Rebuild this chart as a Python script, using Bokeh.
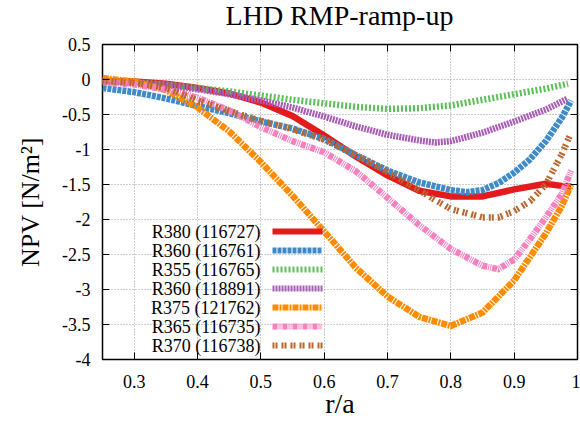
from bokeh.plotting import figure
from bokeh.models import FixedTicker, CustomJSTickFormatter, LinearAxis, Label, Arrow, Div
from bokeh.layouts import column
from bokeh.embed import file_html
from bokeh.resources import INLINE

# ---- data ----
r_r380_116727 = [0.25, 0.30, 0.35, 0.40, 0.45, 0.50, 0.55, 0.60, 0.65, 0.70, 0.75, 0.80, 0.85, 0.90, 0.95, 0.975, 0.99]
npv_r380_116727 = [-0.02, -0.03, -0.06, -0.12, -0.20, -0.33, -0.52, -0.80, -1.10, -1.37, -1.59, -1.67, -1.67, -1.57, -1.49, -1.52, -1.53]

r_r360_116761 = [0.25, 0.30, 0.35, 0.40, 0.45, 0.50, 0.55, 0.60, 0.65, 0.70, 0.75, 0.80, 0.825, 0.85, 0.875, 0.90, 0.925, 0.95, 0.975, 0.99]
npv_r360_116761 = [-0.12, -0.18, -0.27, -0.38, -0.48, -0.60, -0.70, -0.85, -1.08, -1.30, -1.47, -1.58, -1.61, -1.58, -1.48, -1.33, -1.14, -0.88, -0.55, -0.30]

r_r355_116765 = [0.25, 0.30, 0.35, 0.40, 0.45, 0.50, 0.55, 0.60, 0.65, 0.70, 0.75, 0.80, 0.85, 0.90, 0.95, 0.985]
npv_r355_116765 = [-0.01, -0.04, -0.07, -0.12, -0.17, -0.23, -0.29, -0.34, -0.39, -0.42, -0.41, -0.37, -0.29, -0.21, -0.13, -0.06]

r_r360_118891 = [0.25, 0.30, 0.35, 0.40, 0.45, 0.50, 0.55, 0.60, 0.65, 0.70, 0.75, 0.775, 0.80, 0.85, 0.90, 0.95, 0.985]
npv_r360_118891 = [-0.02, -0.05, -0.08, -0.14, -0.21, -0.30, -0.40, -0.53, -0.67, -0.79, -0.87, -0.90, -0.88, -0.76, -0.60, -0.43, -0.27]

r_r375_121762 = [0.25, 0.30, 0.35, 0.40, 0.45, 0.50, 0.55, 0.60, 0.65, 0.70, 0.75, 0.80, 0.85, 0.90, 0.95, 0.975, 0.99]
npv_r375_121762 = [0.02, -0.03, -0.15, -0.40, -0.74, -1.18, -1.66, -2.17, -2.69, -3.10, -3.39, -3.52, -3.33, -2.87, -2.20, -1.81, -1.50]

r_r365_116735 = [0.25, 0.30, 0.35, 0.40, 0.45, 0.50, 0.55, 0.60, 0.65, 0.70, 0.75, 0.80, 0.85, 0.875, 0.90, 0.925, 0.95, 0.975, 0.99]
npv_r365_116735 = [-0.04, -0.07, -0.14, -0.26, -0.44, -0.68, -0.88, -1.04, -1.31, -1.69, -2.08, -2.42, -2.66, -2.71, -2.57, -2.28, -1.97, -1.64, -1.30]

r_r370_116738 = [0.25, 0.30, 0.35, 0.40, 0.45, 0.50, 0.55, 0.60, 0.65, 0.70, 0.75, 0.775, 0.80, 0.85, 0.875, 0.90, 0.925, 0.95, 0.975, 0.988]
npv_r370_116738 = [-0.02, -0.05, -0.12, -0.30, -0.45, -0.59, -0.71, -0.86, -1.08, -1.32, -1.58, -1.72, -1.85, -1.97, -1.97, -1.88, -1.74, -1.50, -1.07, -0.80]

series_labels = ["R380 (116727)", "R360 (116761)", "R355 (116765)", "R360 (118891)",
                 "R375 (121762)", "R365 (116735)", "R370 (116738)"]
series_x = [r_r380_116727, r_r360_116761, r_r355_116765, r_r360_118891,
            r_r375_121762, r_r365_116735, r_r370_116738]
series_values = [npv_r380_116727, npv_r360_116761, npv_r355_116765, npv_r360_118891,
                 npv_r375_121762, npv_r365_116735, npv_r370_116738]

x_ticks = [0.3, 0.4, 0.5, 0.6, 0.7, 0.8, 0.9, 1.0]
y_ticks = [0.5, 0, -0.5, -1, -1.5, -2, -2.5, -3, -3.5, -4]

title_text = "LHD RMP-ramp-up"
x_label = "r/a"
y_label = "NPV [N/m\u00b2]"

# ---- styles ----
colors = ["#e41a1c", "#3f8bc9", "#5cbf58", "#a95cb6", "#ff8c00", "#f781bf", "#b5672f"]
dashes = ["solid", "4 1", "2 2", "2 1", "6 1 2 1", "5 1 1 1 1 1", "2 1 2 4"]
FONT = "Liberation Serif"

TITLE_H = 30
p = figure(frame_width=475, frame_height=315, x_range=(0.25, 1.0), y_range=(-4, 0.5),
           output_backend="svg", toolbar_location=None,
           min_border_left=102, min_border_right=3, min_border_top=44 - TITLE_H,
           min_border_bottom=64)
p.background_fill_color = "white"
p.border_fill_color = "white"
p.outline_line_color = "black"
p.outline_line_width = 1.5

fmt = CustomJSTickFormatter(code="return String(Math.round(tick*100)/100);")
p.xaxis.ticker = FixedTicker(ticks=x_ticks)
p.yaxis.ticker = FixedTicker(ticks=y_ticks)
for ax in (p.xaxis[0], p.yaxis[0]):
    ax.formatter = fmt
    ax.axis_line_color = None
    ax.major_tick_in = 7
    ax.major_tick_out = 0
    ax.major_tick_line_color = "black"
    ax.minor_tick_line_color = None
    ax.major_label_text_font = FONT
    ax.major_label_text_font_size = "18px"
    ax.major_label_text_color = "black"
    ax.axis_label_text_font = FONT
    ax.axis_label_text_font_style = "normal"
    ax.axis_label_text_color = "black"
p.xaxis.major_label_standoff = 15
p.yaxis.major_label_standoff = 12
p.xaxis.axis_label = x_label
p.yaxis.axis_label = y_label
p.xaxis.axis_label_text_font_size = "28px"
p.yaxis.axis_label_text_font_size = "26px"
p.xaxis.axis_label_standoff = -3
p.yaxis.axis_label_standoff = 14

# mirror ticks on top and right (no labels)
blank = CustomJSTickFormatter(code="return '';")
for side in ("above", "right"):
    ax = LinearAxis(ticker=FixedTicker(ticks=x_ticks if side == "above" else y_ticks),
                    formatter=blank)
    ax.axis_line_color = None
    ax.major_tick_in = 7
    ax.major_tick_out = 0
    ax.minor_tick_line_color = None
    ax.major_label_standoff = 0
    p.add_layout(ax, side)

p.grid.grid_line_color = "#9a9a9a"
p.grid.grid_line_dash = "1 2"
p.grid.grid_line_width = 1
p.xgrid.ticker = FixedTicker(ticks=x_ticks)
p.ygrid.ticker = FixedTicker(ticks=y_ticks)

for xs, vals, c, d in zip(series_x, series_values, colors, dashes):
    p.line(xs, vals, line_color=c, line_width=6.5, line_dash=d, line_join="round")

# manual key: text right-aligned, sample on its right (frame-relative pixels)
for i, (name, c, d) in enumerate(zip(series_labels, colors, dashes)):
    y = 128 - 19 * i
    p.add_layout(Label(x=158, y=y, x_units="screen", y_units="screen", text=name,
                       text_align="right", text_baseline="middle", text_font=FONT,
                       text_font_size="18px", text_color="black"))
    p.add_layout(Arrow(x_start=170, y_start=y, x_end=220, y_end=y,
                       start_units="screen", end_units="screen", end=None,
                       line_color=c, line_width=6, line_dash=d))

# title above the frame, centred over the plotting area
title = Div(text=title_text, width=475, height=TITLE_H, margin=(0, 0, 0, 102),
            styles={"font-family": FONT, "font-size": "28px", "line-height": "28px",
                    "text-align": "center", "color": "black", "padding-top": "2px",
                    "overflow": "visible"})

layout = column(title, p, spacing=0)
open("out.html", "w").write(file_html(layout, INLINE))
